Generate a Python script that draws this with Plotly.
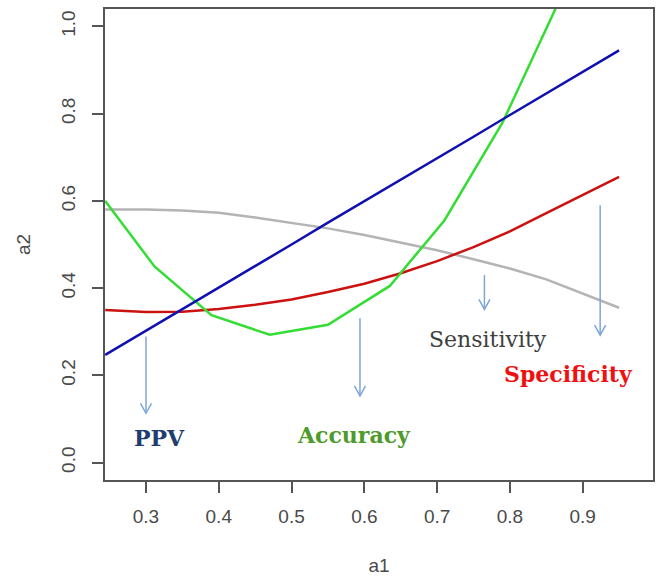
import plotly.graph_objects as go

# ---- data ----
x_grid = [0.244, 0.30, 0.35, 0.40, 0.45, 0.50, 0.55, 0.60, 0.65, 0.70, 0.75, 0.80, 0.85, 0.90, 0.95]
ppv = [0.247, 0.302, 0.352, 0.401, 0.451, 0.500, 0.550, 0.599, 0.649, 0.698, 0.747, 0.797, 0.846, 0.896, 0.945]
sensitivity = [0.580, 0.580, 0.578, 0.573, 0.562, 0.550, 0.537, 0.522, 0.505, 0.487, 0.466, 0.445, 0.420, 0.388, 0.355]
specificity = [0.350, 0.345, 0.346, 0.352, 0.362, 0.374, 0.391, 0.410, 0.434, 0.462, 0.494, 0.530, 0.572, 0.614, 0.655]

acc_x = [0.244, 0.312, 0.390, 0.470, 0.550, 0.635, 0.710, 0.790, 0.870]
accuracy = [0.600, 0.449, 0.338, 0.293, 0.316, 0.405, 0.555, 0.780, 1.067]

x_ticks = [0.3, 0.4, 0.5, 0.6, 0.7, 0.8, 0.9]
y_ticks = [0.0, 0.2, 0.4, 0.6, 0.8, 1.0]

# label / arrow annotations: (text, colour, bold, x, y)
labels = [
    ("PPV", "#1f3d6e", True, 0.318, 0.057),
    ("Accuracy", "#4e9a2a", True, 0.586, 0.063),
    ("Sensitivity", "#404040", False, 0.770, 0.283),
    ("Specificity", "#ee1111", True, 0.881, 0.203),
]
arrows = [  # x, y_start, y_end
    (0.300, 0.289, 0.113),
    (0.594, 0.331, 0.153),
    (0.765, 0.430, 0.351),
    (0.924, 0.590, 0.292),
]

x_range = [0.2437, 0.9966]
y_range = [-0.04, 1.04]

fig = go.Figure()
fig.add_trace(go.Scatter(x=x_grid, y=sensitivity, mode="lines", name="Sensitivity",
                         line=dict(color="#b4b4b4", width=2.5)))
fig.add_trace(go.Scatter(x=x_grid, y=specificity, mode="lines", name="Specificity",
                         line=dict(color="#cc1111", width=2.5)))
fig.add_trace(go.Scatter(x=acc_x, y=accuracy, mode="lines", name="Accuracy",
                         line=dict(color="#33dd33", width=2.5)))
fig.add_trace(go.Scatter(x=x_grid, y=ppv, mode="lines", name="PPV",
                         line=dict(color="#1010b0", width=2.5)))

# arrows as shapes (shaft + open V head)
plot_w = 661 - 105 - 8
plot_h = 576 - 9 - 96
dx = 5.5 * (x_range[1] - x_range[0]) / plot_w
dy = 10 * (y_range[1] - y_range[0]) / plot_h
arrow_col = "#7ea6d8"
for ax_, y0, y1 in arrows:
    fig.add_shape(type="line", x0=ax_, x1=ax_, y0=y0, y1=y1, xref="x", yref="y",
                  line=dict(color=arrow_col, width=1.5))
    path = f"M {ax_-dx},{y1+dy} L {ax_},{y1} L {ax_+dx},{y1+dy}"
    fig.add_shape(type="path", path=path, xref="x", yref="y",
                  line=dict(color=arrow_col, width=1.5))

for text, col, bold, lx, ly in labels:
    fig.add_annotation(x=lx, y=ly, xref="x", yref="y", showarrow=False,
                       text=f"<b>{text}</b>" if bold else text,
                       font=dict(family="DejaVu Serif", size=22, color=col),
                       xanchor="center", yanchor="middle")

axis_common = dict(
    showline=True, mirror=True, linecolor="#555555", linewidth=1.5,
    ticks="outside", ticklen=11, tickwidth=1.5, tickcolor="#555555",
    showgrid=False, zeroline=False, automargin=False,
    tickfont=dict(family="Liberation Sans", size=19, color="#4a4a4a"),
)

fig.update_layout(
    width=661, height=576,
    margin=dict(l=105, r=8, t=9, b=96),
    paper_bgcolor="white", plot_bgcolor="white",
    showlegend=False,
    xaxis=dict(range=x_range, tickvals=x_ticks, ticktext=[f"{v:.1f}" for v in x_ticks],
               ticklabelstandoff=7,
               title=dict(text="a1", font=dict(family="Liberation Sans", size=19, color="#4a4a4a"),
                          standoff=34),
               **axis_common),
    yaxis=dict(range=y_range, tickvals=y_ticks, ticktext=[f"{v:.1f}" for v in y_ticks],
               tickangle=-90, ticklabelstandoff=10,
               title=dict(text="a2", font=dict(family="Liberation Sans", size=19, color="#4a4a4a"),
                          standoff=22),
               **axis_common),
)

fig.write_html("out.html", config={"displayModeBar": False},
               post_script="document.body.style.margin='0px';")
